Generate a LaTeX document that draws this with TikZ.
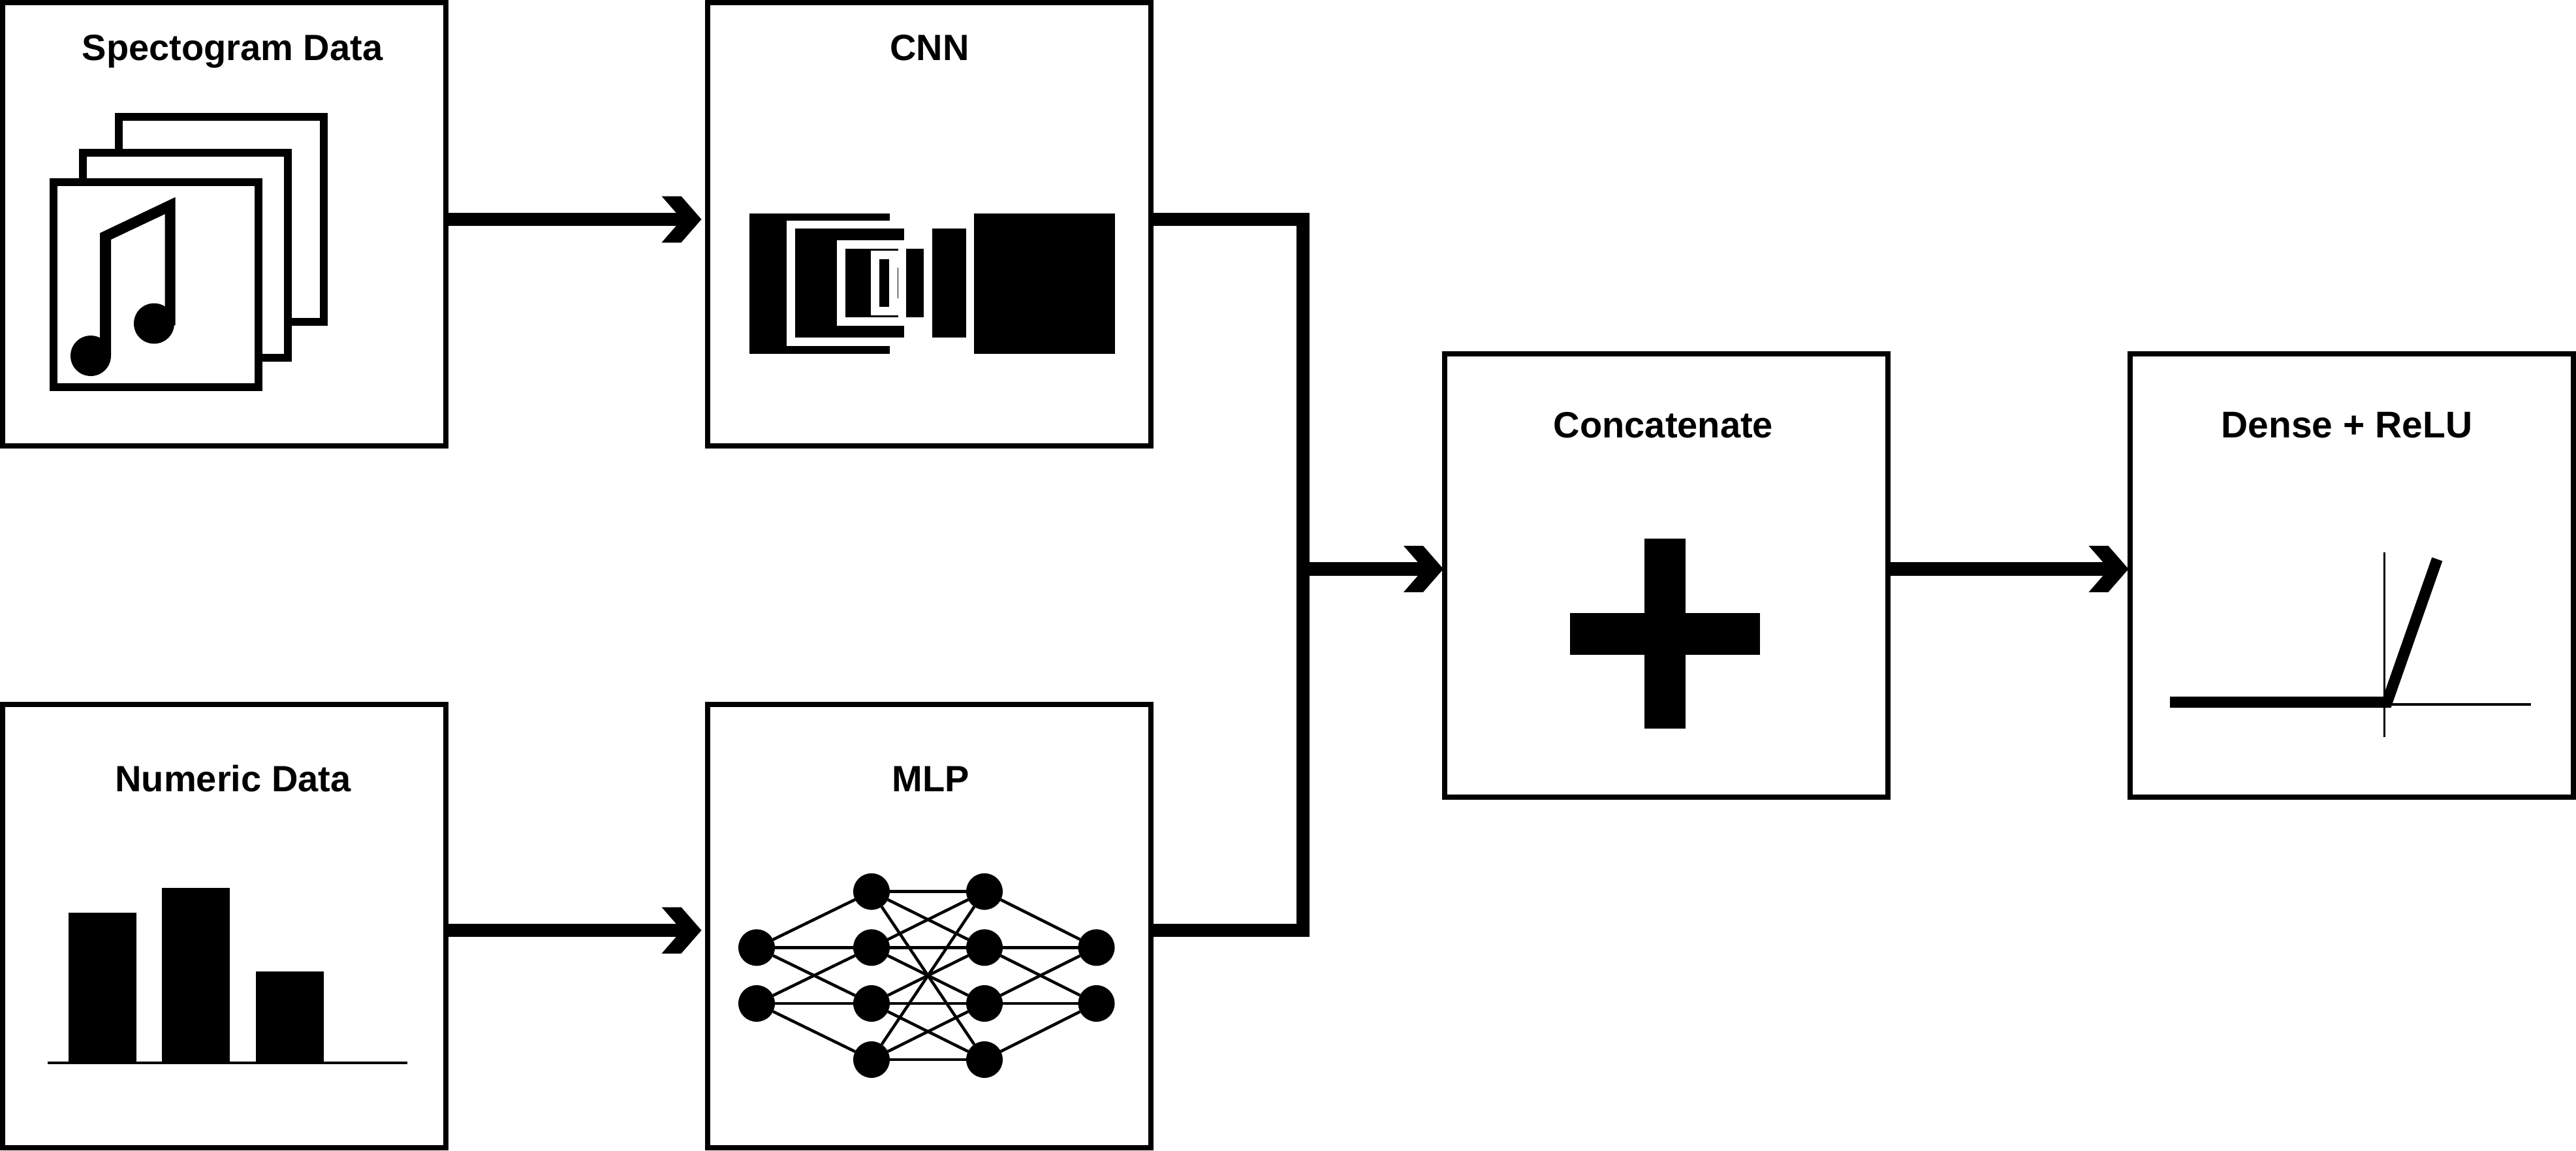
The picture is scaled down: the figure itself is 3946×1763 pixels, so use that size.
\documentclass[tikz,border=0pt]{standalone}
\usepackage{fontspec}
\setmainfont{Liberation Sans}
\usetikzlibrary{arrows.meta,calc}
\pgfdeclarearrow{
  name=Chev,
  setup code={\pgfarrowssettipend{0pt}\pgfarrowssetlineend{-15pt}},
  drawing code={
    \pgfpathmoveto{\pgfqpoint{0pt}{0pt}}
    \pgfpathlineto{\pgfqpoint{-31pt}{35.5pt}}
    \pgfpathlineto{\pgfqpoint{-61pt}{35.5pt}}
    \pgfpathlineto{\pgfqpoint{-30pt}{0pt}}
    \pgfpathlineto{\pgfqpoint{-61pt}{-35.5pt}}
    \pgfpathlineto{\pgfqpoint{-31pt}{-35.5pt}}
    \pgfpathclose
    \pgfusepathqfill
  },
  defaults={}
}
\tikzset{
  panel/.style={draw=black,line width=8pt,rectangle,minimum width=679pt,minimum height=679pt,inner sep=0pt,fill=white},
  title/.style={font=\bfseries\fontsize{56}{60}\selectfont,anchor=base,inner sep=0pt,text=black},
  wire/.style={draw=black,line width=20.5pt,line join=miter},
  sheet/.style={draw=black,line width=12pt,fill=white},
  neuron/.style={circle,fill=black,inner sep=0pt,minimum size=56pt,outer sep=0pt},
  syn/.style={draw=black,line width=4.5pt},
  ink/.style={fill=black,draw=none},
  paper/.style={fill=white,draw=none}
}
\begin{document}
\begin{tikzpicture}[x=1pt,y=-1pt]
\useasboundingbox (0,0) rectangle (3946,1763);
% panels
\node[panel] (spec) at (343.5,343.5) {};
\node[panel] (cnn) at (1423,343.5) {};
\node[panel] (num) at (343.5,1418.5) {};
\node[panel] (mlp) at (1423,1418.5) {};
\node[panel] (concat) at (2552.5,881.5) {};
\node[panel] (dense) at (3602,881.5) {};
% titles
\node[title] (tspec) at (356,93) {Spectogram Data};
\node[title] (tcnn) at (1424,93) {CNN};
\node[title] (tnum) at (357,1212) {Numeric Data};
\node[title] (tmlp) at (1426,1212) {MLP};
\node[title] (tconcat) at (2548,670) {Concatenate};
\node[title,font=\bfseries\fontsize{57}{60}\selectfont] (tdense) at (3595,670) {Dense + ReLU};
% connectors
\coordinate (j) at (1996,871.5);
\draw[wire,-{Chev},shorten >=5pt] ([yshift=7.5pt]spec.east) -- ([yshift=7.5pt]cnn.west);
\draw[wire,-{Chev},shorten >=5pt] ([yshift=-6.5pt]num.east) -- ([yshift=-6.5pt]mlp.west);
\draw[wire] ([yshift=7.5pt]cnn.east) -| (j) |- ([yshift=-6.5pt]mlp.east);
\draw[wire,-{Chev},shorten >=-2pt] (j) -- (concat.west |- j);
\draw[wire,-{Chev},shorten >=-2pt] (concat.east |- j) -- (dense.west |- j);
% spectrogram icon
\draw[sheet] (182,179) rectangle (496,493);
\draw[sheet] (127,234) rectangle (441,548);
\draw[sheet] (82,279) rectangle (396,593);
\fill[ink] (153,357) -- (268.6,302) -- (268.6,498) -- (252.5,498) -- (252.5,328) -- (170,367) -- (170,545) -- (153,545) -- cycle;
\fill[ink] (139,545) circle (31);
\fill[ink] (236,495.5) circle (31);
% CNN icon
\fill[ink] (1148,327) rectangle (1363,542);
\fill[paper] (1205,338) rectangle (1364,530);
\fill[ink] (1218,350) rectangle (1385,517);
\fill[paper] (1282,368) rectangle (1386,499);
\fill[ink] (1295,381) rectangle (1376,486);
\fill[paper] (1334,384) rectangle (1377,483);
\fill[ink] (1347,397) rectangle (1362,470);
\fill[ink] (1375,410) rectangle (1376,457);
\fill[ink] (1388,381) rectangle (1415,486);
\fill[ink] (1428,350) rectangle (1480,517);
\fill[ink] (1492,327) rectangle (1707.5,542);
% numeric icon
\fill[ink] (105,1398) rectangle (208.5,1628);
\fill[ink] (248,1360) rectangle (352,1628);
\fill[ink] (392,1488) rectangle (496,1628);
\fill[ink] (73,1626) rectangle (623.5,1630);
% MLP icon
\foreach \n/\x/\y in {a2/1159/1451.4,a3/1159/1537,
  b1/1335/1365.6,b2/1335/1451.4,b3/1335/1537,b4/1335/1623,
  c1/1508/1365.6,c2/1508/1451.4,c3/1508/1537,c4/1508/1623,
  d2/1679.5/1451.4,d3/1679.5/1537}
  \node[neuron] (\n) at (\x,\y) {};
\foreach \p/\q in {a2/b1,a2/b2,a2/b3,a3/b2,a3/b3,a3/b4,
  b1/c1,b1/c2,b1/c4,b2/c1,b2/c2,b2/c3,b3/c2,b3/c3,b3/c4,b4/c1,b4/c3,b4/c4,
  c1/d2,c2/d2,c2/d3,c3/d2,c3/d3,c4/d3}
  \draw[syn] (\p) -- (\q);
% plus
\fill[ink] (2518.6,825) rectangle (2582,1116);
\fill[ink] (2405,939) rectangle (2696,1003);
% ReLU
\draw[draw=black,line width=3.6pt] (3652.6,846) -- (3652.6,1129);
\draw[draw=black,line width=3.6pt] (3652.6,1079) -- (3877,1079);
\draw[draw=black,line width=17pt,line join=miter] (3324,1075.5) -- (3656.5,1075.5) -- (3733.3,856.5);
\end{tikzpicture}
\end{document}
